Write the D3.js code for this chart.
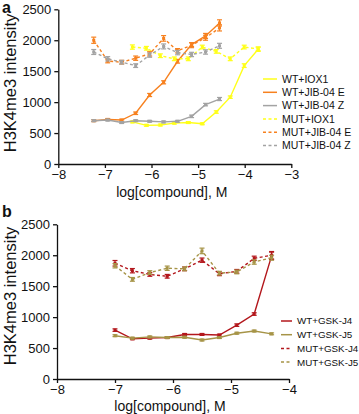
<!DOCTYPE html>
<html>
<head>
<meta charset="utf-8">
<script src="https://cdn.jsdelivr.net/npm/d3@7"></script>
<style>
  body { margin: 0; background: #fff; }
  svg { display: block; font-family: "Liberation Sans", Arial, sans-serif; }
</style>
</head>
<body>
<svg id="chart" width="359" height="414"></svg>
<script>
// x positions (log M)
const xJib = [-7.24, -6.94, -6.64, -6.34, -6.04, -5.74, -5.44, -5.14, -4.84, -4.54];
const xIox = [-6.41, -6.11, -5.81, -5.51, -5.21, -4.91, -4.61, -4.31, -4.01, -3.71];
const xGsk = [-7.0, -6.7, -6.4, -6.1, -5.8, -5.5, -5.2, -4.9, -4.6, -4.3];

// panel a values
const wtIox1 = [680, 625, 630, 660, 670, 650, 840, 1080, 1590, 1855];
const wtJibE = [700, 720, 710, 820, 1115, 1320, 1660, 1930, 2070, 2280];
const wtJibZ = [700, 710, 670, 700, 690, 680, 690, 770, 960, 1050];
const mutIox1 = [1890, 1870, 1750, 1700, 1700, 1890, 1820, 1700, 1890, 1860];
const mutJibE = [2000, 1665, 1645, 1710, 1780, 2030, 1830, 1920, 2040, 2200];
const mutJibZ = [1810, 1700, 1645, 1590, 1760, 1900, 1800, 1770, 1810, 1910];

const errWtIox1 = [15, 15, 15, 15, 15, 15, 20, 20, 30, 35];
const errWtJibE = [15, 15, 15, 20, 25, 25, 30, 30, 40, 50];
const errWtJibZ = [15, 15, 15, 15, 15, 15, 15, 20, 20, 25];
const errMutIox1 = [35, 30, 30, 30, 30, 30, 30, 30, 30, 30];
const errMutJibE = [50, 30, 30, 35, 35, 45, 35, 40, 40, 50];
const errMutJibZ = [40, 35, 30, 30, 35, 40, 35, 35, 35, 40];

// panel b values
const wtGskJ4 = [790, 650, 660, 670, 720, 720, 710, 870, 1050, 1990];
const wtGskJ5 = [700, 660, 680, 670, 675, 630, 670, 740, 775, 730];
const mutGskJ4 = [1870, 1750, 1690, 1660, 1780, 1920, 1700, 1740, 1950, 2000];
const mutGskJ5 = [1830, 1610, 1720, 1790, 1780, 2070, 1710, 1730, 1890, 1960];

const errWtGskJ4 = [20, 15, 15, 15, 15, 15, 15, 20, 20, 60];
const errWtGskJ5 = [15, 15, 15, 15, 15, 15, 15, 15, 15, 15];
const errMutGskJ4 = [45, 35, 30, 30, 30, 35, 30, 30, 35, 60];
const errMutGskJ5 = [35, 30, 30, 35, 30, 45, 30, 30, 35, 40];

const yTicks = [0, 500, 1000, 1500, 2000, 2500];

const svg = d3.select("#chart");

function drawPanel(cfg) {
  const x = d3.scaleLinear().domain(cfg.xDomain).range(cfg.xRange);
  const y = d3.scaleLinear().domain([0, 2500]).range(cfg.yRange);
  const g = svg.append("g");

  // axes
  g.append("g")
    .attr("transform", `translate(0,${cfg.yRange[0]})`)
    .call(d3.axisBottom(x).tickValues(cfg.xTicks).tickSize(4).tickSizeOuter(0).tickFormat(d3.format("d")))
    .call(a => a.selectAll("text").attr("font-size", 13).attr("y", 6).attr("dy", "0.71em").attr("fill", "#111").attr("font-family", "Liberation Sans, Arial"))
    .call(a => a.selectAll("line,path").attr("stroke", "#111").attr("stroke-width", 1.3));

  g.append("g")
    .attr("transform", `translate(${cfg.xRange[0]},0)`)
    .call(d3.axisLeft(y).tickValues(yTicks).tickSize(4).tickSizeOuter(0).tickFormat(d3.format("d")))
    .call(a => a.selectAll("text").attr("font-size", 13).attr("fill", "#111").attr("font-family", "Liberation Sans, Arial"))
    .call(a => a.selectAll("line,path").attr("stroke", "#111").attr("stroke-width", 1.3));

  // axis titles
  g.append("text")
    .attr("x", (cfg.xRange[0] + cfg.xRange[1]) / 2 - 3)
    .attr("y", cfg.xTitleY)
    .attr("text-anchor", "middle")
    .attr("font-size", 14)
    .attr("fill", "#111")
    .text("log[compound], M");

  g.append("text")
    .attr("transform", `translate(${cfg.yTitleX},${cfg.yTitleMid}) rotate(-90)`)
    .attr("text-anchor", "middle")
    .attr("font-size", 16.5)
    .attr("fill", "#111")
    .text("H3K4me3 intensity");

  g.append("text")
    .attr("x", 2)
    .attr("y", cfg.labelY)
    .attr("font-size", 16)
    .attr("font-weight", "bold")
    .attr("fill", "#111")
    .text(cfg.label);

  const line = d3.line().x(d => x(d[0])).y(d => y(d[1]));

  cfg.series.forEach(s => {
    const pts = s.xs.map((v, i) => [v, s.ys[i], s.err[i]]);
    const sg = g.append("g");
    sg.append("path")
      .datum(pts)
      .attr("d", line)
      .attr("fill", "none")
      .attr("stroke", s.color)
      .attr("stroke-width", 1.4)
      .attr("stroke-dasharray", s.dash ? "3,2.5" : null);

    // error bars
    sg.selectAll("g.eb").data(pts).join("g")
      .each(function (d) {
        const e = d3.select(this);
        const cx = x(d[0]);
        e.append("line").attr("x1", cx).attr("x2", cx)
          .attr("y1", y(d[1] - d[2])).attr("y2", y(d[1] + d[2]));
        e.append("line").attr("x1", cx - 2.5).attr("x2", cx + 2.5)
          .attr("y1", y(d[1] + d[2])).attr("y2", y(d[1] + d[2]));
        e.append("line").attr("x1", cx - 2.5).attr("x2", cx + 2.5)
          .attr("y1", y(d[1] - d[2])).attr("y2", y(d[1] - d[2]));
        e.append("rect").attr("x", cx - 1.5).attr("y", y(d[1]) - 1.5)
          .attr("width", 3).attr("height", 3).attr("fill", s.color);
      })
      .selectAll("line")
      .attr("stroke", s.color)
      .attr("stroke-width", 1.2);
  });

  // legend
  const lg = g.append("g").attr("transform", `translate(${cfg.legendX},${cfg.legendY})`);
  cfg.series.forEach((s, i) => {
    const row = lg.append("g").attr("transform", `translate(0,${i * cfg.legendStep})`);
    row.append("line")
      .attr("x1", 0).attr("x2", cfg.legendLen)
      .attr("stroke", s.color)
      .attr("stroke-width", 1.5)
      .attr("stroke-dasharray", s.dash ? "3,2.5" : null);
    row.append("text")
      .attr("x", cfg.legendLen + 5)
      .attr("dy", "0.35em")
      .attr("font-size", cfg.legendFont)
      .attr("fill", "#111")
      .text(s.name);
  });
}

const yellow = "#ffff1a";
const orange = "#f7811f";
const grey = "#a3a3a3";
const red = "#b3171c";
const olive = "#a69447";

drawPanel({
  label: "a",
  labelY: 13,
  xDomain: [-8, -3],
  xRange: [58.3, 291.3],
  yRange: [164, 9.3],
  xTicks: [-8, -7, -6, -5, -4, -3],
  xTitleY: 197,
  yTitleX: 16,
  yTitleMid: 83,
  legendX: 263,
  legendY: 79,
  legendStep: 13.3,
  legendLen: 14,
  legendFont: 10.5,
  series: [
    { name: "WT+IOX1", xs: xIox, ys: wtIox1, err: errWtIox1, color: yellow, dash: false },
    { name: "WT+JIB-04 E", xs: xJib, ys: wtJibE, err: errWtJibE, color: orange, dash: false },
    { name: "WT+JIB-04 Z", xs: xJib, ys: wtJibZ, err: errWtJibZ, color: grey, dash: false },
    { name: "MUT+IOX1", xs: xIox, ys: mutIox1, err: errMutIox1, color: yellow, dash: true },
    { name: "MUT+JIB-04 E", xs: xJib, ys: mutJibE, err: errMutJibE, color: orange, dash: true },
    { name: "MUT+JIB-04 Z", xs: xJib, ys: mutJibZ, err: errMutJibZ, color: grey, dash: true }
  ]
});

drawPanel({
  label: "b",
  labelY: 217,
  xDomain: [-8, -4],
  xRange: [57, 289],
  yRange: [379, 224.3],
  xTicks: [-8, -7, -6, -5, -4],
  xTitleY: 411,
  yTitleX: 16,
  yTitleMid: 296,
  legendX: 281,
  legendY: 321,
  legendStep: 13.7,
  legendLen: 11,
  legendFont: 9.8,
  series: [
    { name: "WT+GSK-J4", xs: xGsk, ys: wtGskJ4, err: errWtGskJ4, color: red, dash: false },
    { name: "WT+GSK-J5", xs: xGsk, ys: wtGskJ5, err: errWtGskJ5, color: olive, dash: false },
    { name: "MUT+GSK-J4", xs: xGsk, ys: mutGskJ4, err: errMutGskJ4, color: red, dash: true },
    { name: "MUT+GSK-J5", xs: xGsk, ys: mutGskJ5, err: errMutGskJ5, color: olive, dash: true }
  ]
});
</script>
</body>
</html>
